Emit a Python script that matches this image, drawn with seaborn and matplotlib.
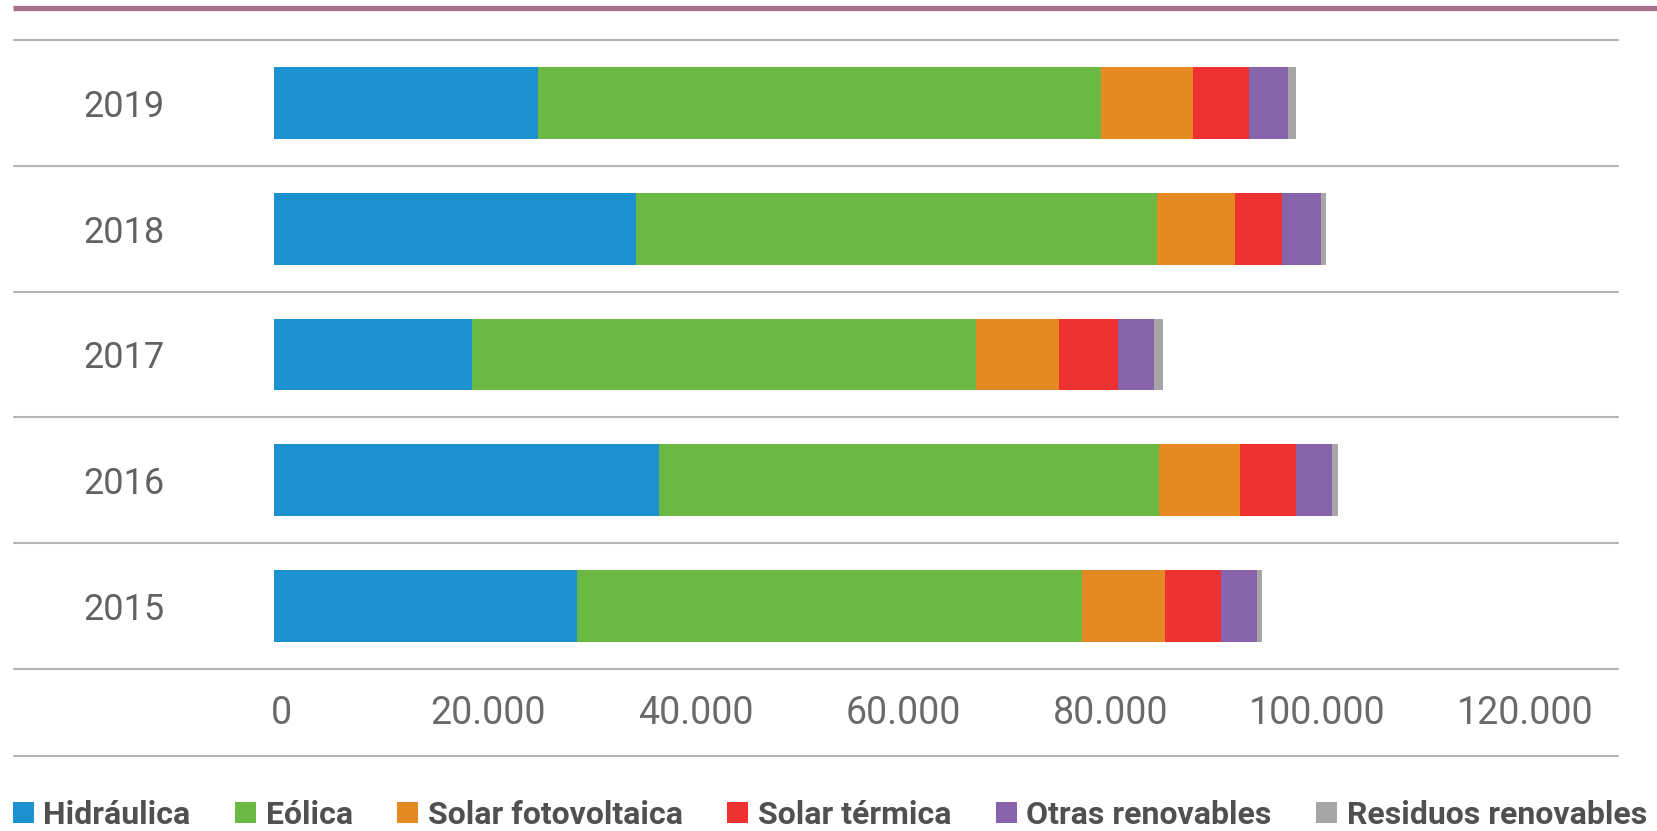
import matplotlib as mpl
mpl.use('Agg')
import matplotlib.pyplot as plt
import matplotlib.transforms as mtransforms
import numpy as np
import pandas as pd
import seaborn as sns
from matplotlib.lines import Line2D
from matplotlib.patches import Patch
from matplotlib.ticker import FuncFormatter

# renewable generation by technology
years = ["2015", "2016", "2017", "2018", "2019"]
hidraulica = [29260, 37120, 19070, 34880, 25490]
eolica = [48660, 48290, 48630, 50290, 54330]
solar_fv = [8040, 7790, 8070, 7530, 8820]
solar_termica = [5370, 5370, 5640, 4560, 5400]
otras = [3470, 3530, 3500, 3730, 3760]
residuos = [480, 510, 870, 510, 800]

series_names = ["Hidráulica", "Eólica", "Solar fotovoltaica", "Solar térmica",
                "Otras renovables", "Residuos renovables"]
series_colors = ["#1B91CF", "#6BB944", "#E58A23", "#EE3231", "#8663AA", "#A6A6A6"]
x_ticks = [0, 20000, 40000, 60000, 80000, 100000, 120000]

LINE_COLOR = "#B4B4B4"
TEXT_COLOR = "#6A6A6A"
FONT = ["Roboto", "DejaVu Sans"]

sns.set_theme(style="white")
plt.rcParams['font.family'] = FONT

df = pd.DataFrame({"year": years, "Hidráulica": hidraulica, "Eólica": eolica,
                   "Solar fotovoltaica": solar_fv, "Solar térmica": solar_termica,
                   "Otras renovables": otras, "Residuos renovables": residuos})
cum = df[series_names].cumsum(axis=1)
cum["year"] = df["year"]
order = years[::-1]

fig = plt.figure(figsize=(16.58, 8.31), dpi=100)
W, H = 1658, 831
ax = fig.add_axes([274 / W, 1 - 669 / H, (1618 - 274) / W, (669 - 40) / H])

# draw stacks from the total downwards so each segment shows
for name, color in reversed(list(zip(series_names, series_colors))):
    sns.barplot(data=cum, x=name, y="year", order=order, color=color,
                saturation=1, width=0.572, linewidth=0, orient="h", ax=ax)

ax.set_xlim(0, (1618 - 274) / 0.010365)
ax.set_ylim(4.5, -0.5)
ax.set_xlabel("")
ax.set_ylabel("")
for s in ax.spines.values():
    s.set_visible(False)

ax.set_xticks(x_ticks)
ax.xaxis.set_major_formatter(FuncFormatter(lambda v, p: "{:,}".format(int(v)).replace(",", ".")))
ax.tick_params(axis="x", length=0, pad=19, labelsize=27, labelcolor=TEXT_COLOR)
ax.tick_params(axis="y", length=0, pad=108, labelsize=26, labelcolor="#626262")
# tick labels in the original sit a few pixels right of the bar origin
shift = mtransforms.ScaledTranslation(7 / 100, 0, fig.dpi_scale_trans)
for lbl in ax.get_xticklabels():
    lbl.set_transform(lbl.get_transform() + shift)
for lbl in ax.get_yticklabels():
    lbl.set_horizontalalignment("center")

# row separators
for yb in np.arange(-0.5, 5.0, 1.0):
    ax.axhline(yb, xmin=(14 - 274) / (1618 - 274), xmax=1, color=LINE_COLOR,
               lw=1.5, clip_on=False, zorder=0)

# line under tick labels and top band
fig.add_artist(Line2D([14 / W, 1618 / W], [1 - 756 / H, 1 - 756 / H],
                      color=LINE_COLOR, lw=1.5))
fig.add_artist(Line2D([13 / W, 1.0], [1 - 8 / H, 1 - 8 / H],
                      color="#A8708F", lw=3.8, solid_capstyle="butt"))

handles = [Patch(facecolor=c, edgecolor="none") for c in series_colors]
fig.legend(handles, series_names, ncol=6, mode="expand", loc="center",
           bbox_to_anchor=(13 / W, 1 - 840 / H, (1647 - 13) / W, 50 / H),
           frameon=False, borderpad=0, borderaxespad=0, handlelength=0.65,
           handleheight=0.65, handletextpad=0.3,
           prop={"family": FONT, "size": 23, "weight": "bold"},
           labelcolor="#505050")

fig.savefig("out.png", dpi=100, facecolor="white")
